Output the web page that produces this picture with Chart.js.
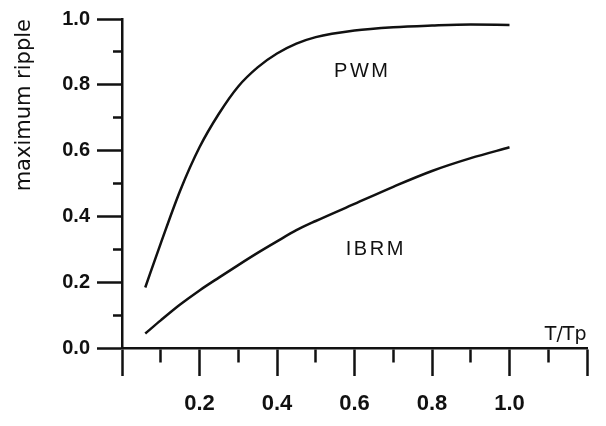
<!DOCTYPE html>
<html>
<head>
<meta charset="utf-8">
<title>maximum ripple vs T/Tp</title>
<script src="https://cdn.jsdelivr.net/npm/chart.js@4"></script>
<style>
  html, body { margin: 0; padding: 0; background: #fff; }
  canvas { display: block; }
</style>
</head>
<body>
<canvas id="rippleChart" width="606" height="426"></canvas>
<script>
// T/Tp where both curves were read
const ratio = [0.06, 0.1, 0.15, 0.2, 0.25, 0.3, 0.35, 0.4, 0.45, 0.5, 0.6, 0.7, 0.8, 0.9, 1.0];
// maximum ripple
const pwm  = [0.184, 0.318, 0.478, 0.61, 0.712, 0.795, 0.853, 0.895, 0.925, 0.945, 0.965, 0.975, 0.98, 0.983, 0.982];
const ibrm = [0.044, 0.084, 0.132, 0.175, 0.214, 0.252, 0.289, 0.324, 0.358, 0.386, 0.438, 0.49, 0.538, 0.577, 0.61];

// labelled ticks
const xTickLabels = [0.2, 0.4, 0.6, 0.8, 1.0];
const yTickLabels = [0, 0.2, 0.4, 0.6, 0.8, 1.0];

const ink = "#111";

// text written inside the plot (data coordinates)
const inlineLabels = [
  { text: "PWM",  x: 0.62,  y: 0.84, font: "20px 'Liberation Sans'", spacing: "2.5px" },
  { text: "IBRM", x: 0.655, y: 0.30, font: "20px 'Liberation Sans'", spacing: "2.5px" },
  { text: "T/Tp", x: 1.145, y: 0.04, font: "19px 'DejaVu Sans'", spacing: "0px" }
];

const isMajor = v => Math.round(v * 10) % 2 === 0;
const hasLabel = (list, v) => list.some(t => Math.abs(t - v) < 1e-6);

// minor ticks: dash so only the part next to the axis is drawn
const MAJOR_X = 28, MINOR_X = 13;
const MAJOR_Y = 25, MINOR_Y = 9;

const inlineText = {
  id: "inlineText",
  afterDatasetsDraw(chart) {
    const { ctx, scales: { x, y } } = chart;
    ctx.save();
    ctx.fillStyle = ink;
    ctx.textAlign = "center";
    ctx.textBaseline = "middle";
    inlineLabels.forEach(l => {
      ctx.font = l.font;
      ctx.letterSpacing = l.spacing;
      ctx.fillText(l.text, x.getPixelForValue(l.x), y.getPixelForValue(l.y));
    });
    ctx.restore();
  }
};

new Chart(document.getElementById("rippleChart"), {
  type: "line",
  data: {
    datasets: [
      {
        label: "PWM",
        data: ratio.map((r, i) => ({ x: r, y: pwm[i] })),
        borderColor: ink,
        borderWidth: 2.5,
        pointRadius: 0,
        cubicInterpolationMode: "monotone"
      },
      {
        label: "IBRM",
        data: ratio.map((r, i) => ({ x: r, y: ibrm[i] })),
        borderColor: ink,
        borderWidth: 2.5,
        pointRadius: 0,
        cubicInterpolationMode: "monotone"
      }
    ]
  },
  options: {
    responsive: false,
    animation: false,
    layout: { padding: { top: 15, right: 19, left: 0, bottom: 0 } },
    plugins: {
      legend: { display: false },
      tooltip: { enabled: false }
    },
    scales: {
      x: {
        type: "linear",
        min: 0,
        max: 1.2,
        afterFit: s => { s.height = 78; },
        border: { color: ink, width: 2.5 },
        grid: {
          drawOnChartArea: false,
          color: ink,
          tickColor: ink,
          tickWidth: 2.5,
          tickLength: MAJOR_X,
          tickBorderDash: c => isMajor(c.tick.value) ? [] : [MINOR_X, 100]
        },
        ticks: {
          stepSize: 0.1,
          autoSkip: false,
          maxRotation: 0,
          padding: 15,
          color: ink,
          font: { family: "'Liberation Sans'", size: 22, weight: "bold" },
          callback: v => hasLabel(xTickLabels, v) ? v.toFixed(1) : ""
        }
      },
      y: {
        min: 0,
        max: 1,
        afterFit: s => { s.width = 122; },
        border: { color: ink, width: 2.5 },
        grid: {
          drawOnChartArea: false,
          color: ink,
          tickColor: ink,
          tickWidth: 2.5,
          tickLength: MAJOR_Y,
          tickBorderDash: c => isMajor(c.tick.value) ? [] : [0, MAJOR_Y - MINOR_Y, MINOR_Y, 100]
        },
        ticks: {
          stepSize: 0.1,
          autoSkip: false,
          padding: 7,
          color: ink,
          font: { family: "'Liberation Sans'", size: 20, weight: "bold" },
          callback: v => hasLabel(yTickLabels, v) ? v.toFixed(1) : ""
        },
        title: {
          display: true,
          text: "maximum ripple",
          align: "end",
          color: ink,
          padding: { top: 12, bottom: 0 },
          font: { family: "'DejaVu Sans'", size: 21 }
        }
      }
    }
  },
  plugins: [inlineText]
});
</script>
</body>
</html>
